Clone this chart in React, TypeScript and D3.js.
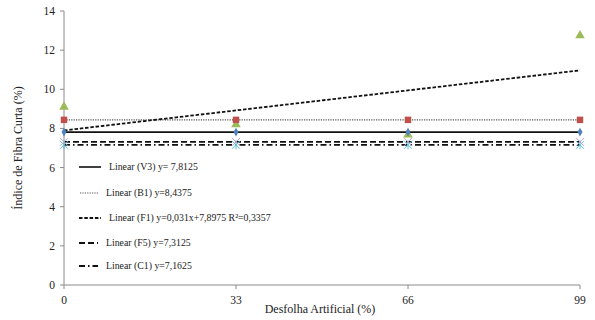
import React from "react";
import * as d3 from "d3";

const xValues = [0, 33, 66, 99];
const seriesV3 = [7.8125, 7.8125, 7.8125, 7.8125];
const seriesB1 = [8.4375, 8.4375, 8.4375, 8.4375];
const seriesF1 = [9.1, 8.2, 7.68, 12.75];
const seriesF5 = [7.3125, 7.3125, 7.3125, 7.3125];
const seriesC1 = [7.1625, 7.1625, 7.1625, 7.1625];
const yTicks = [0, 2, 4, 6, 8, 10, 12, 14];
const xTicks = [0, 33, 66, 99];

const trends = [
  { name: "V3", label: "Linear (V3) y= 7,8125", a: 0, b: 7.8125, dash: "", width: 1.6 },
  { name: "B1", label: "Linear (B1) y=8,4375", a: 0, b: 8.4375, dash: "1.2,1.2", width: 1.2 },
  { name: "F1", label: "Linear (F1) y=0,031x+7,8975 R²=0,3357", a: 0.031, b: 7.8975, dash: "3.5,1.8", width: 1.8 },
  { name: "F5", label: "Linear (F5) y=7,3125", a: 0, b: 7.3125, dash: "6,3", width: 1.8 },
  { name: "C1", label: "Linear (C1) y=7,1625", a: 0, b: 7.1625, dash: "6,3,1.5,3", width: 1.8 },
];

const W = 595;
const H = 320;
const margin = { left: 64, right: 15, top: 11, bottom: 35 };
const font = "Times New Roman, Times, Liberation Serif, DejaVu Serif, serif";

export default function App() {
  const x = d3.scaleLinear().domain([0, 99]).range([margin.left, W - margin.right]);
  const y = d3.scaleLinear().domain([0, 14]).range([H - margin.bottom, margin.top]);
  const axisColor = "#8a8a8a";
  const txt = (size: number) => ({ fontFamily: font, fontSize: size + "px" });

  const diamond = d3.symbol().type(d3.symbolDiamond).size(22)() as string;
  const square = d3.symbol().type(d3.symbolSquare).size(42)() as string;
  const triangle = d3.symbol().type(d3.symbolTriangle).size(40)() as string;

  const legendY = [167, 193, 218, 243, 266];
  const legendX0 = [79, 80, 79, 79, 79];
  const legendX1 = [101, 98, 101, 98, 98];
  const legendTX = [109, 106, 109, 106, 106];

  return (
    <svg width={W} height={H} style={{ position: "absolute", left: 0, top: 0, background: "#fff" }}>
      <line x1={x(0)} x2={x(0)} y1={y(14)} y2={y(0)} stroke={axisColor} strokeWidth={1} />
      <line x1={x(0)} x2={x(99)} y1={y(0)} y2={y(0)} stroke={axisColor} strokeWidth={1} />
      {yTicks.map((t) => (
        <g key={"y" + t}>
          <line x1={x(0) - 4} x2={x(0)} y1={y(t)} y2={y(t)} stroke={axisColor} />
          <text x={x(0) - 9} y={y(t)} dy="0.35em" textAnchor="end" style={txt(11.5)} fill="#222">
            {t}
          </text>
        </g>
      ))}
      {xTicks.map((t) => (
        <g key={"x" + t}>
          <line x1={x(t)} x2={x(t)} y1={y(0)} y2={y(0) + 4} stroke={axisColor} />
          <text x={x(t)} y={y(0) + 19} textAnchor="middle" style={txt(11.5)} fill="#222">
            {t}
          </text>
        </g>
      ))}
      <text x={320} y={313} textAnchor="middle" style={txt(12)} fill="#222">
        Desfolha Artificial (%)
      </text>
      <text transform={`translate(22,148) rotate(-90)`} textAnchor="middle" style={txt(12)} fill="#222">
        Índice de Fibra Curta (%)
      </text>

      {trends.map((tr) => (
        <line
          key={tr.name}
          x1={x(0)}
          x2={x(99)}
          y1={y(tr.b)}
          y2={y(tr.b + tr.a * 99)}
          stroke={tr.name === "B1" ? "#555" : "#111"}
          strokeWidth={tr.width}
          strokeDasharray={tr.dash}
        />
      ))}

      {xValues.map((xv, i) => (
        <g key={"m" + i}>
          <g transform={`translate(${x(xv)},${y(seriesC1[i])})`} stroke="#5bc0de" strokeWidth={1}>
            <line x1={-4} x2={4} y1={-4} y2={4} />
            <line x1={-4} x2={4} y1={4} y2={-4} />
            <line x1={0} x2={0} y1={-4.5} y2={4.5} />
          </g>
          <g transform={`translate(${x(xv)},${y(seriesF5[i])})`} stroke="#b7a6cf" strokeWidth={1}>
            <line x1={-4} x2={4} y1={-4} y2={4} />
            <line x1={-4} x2={4} y1={4} y2={-4} />
          </g>
          <path d={triangle} transform={`translate(${x(xv)},${y(seriesF1[i])})`} fill="#9bbb59" />
          <path d={square} transform={`translate(${x(xv)},${y(seriesB1[i])})`} fill="#c0504d" />
          <path d={diamond} transform={`translate(${x(xv)},${y(seriesV3[i])})`} fill="#4f81bd" />
        </g>
      ))}

      {trends.map((tr, i) => (
        <g key={"l" + tr.name}>
          <line
            x1={legendX0[i]}
            x2={legendX1[i]}
            y1={legendY[i]}
            y2={legendY[i]}
            stroke={tr.name === "B1" ? "#555" : "#111"}
            strokeWidth={tr.width}
            strokeDasharray={tr.dash}
          />
          <text x={legendTX[i]} y={legendY[i]} dy="0.35em" style={txt(9.8)} fill="#222">
            {tr.label}
          </text>
        </g>
      ))}
    </svg>
  );
}
